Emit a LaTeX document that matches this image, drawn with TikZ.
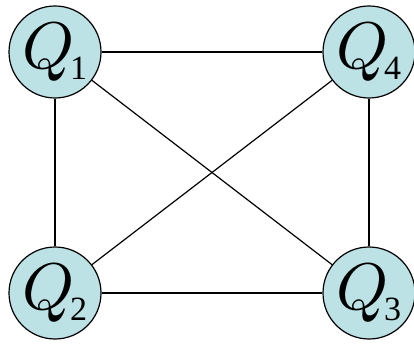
\documentclass[tikz,border=0pt]{standalone}
\usepackage{fontspec}
\setmainfont{Liberation Serif}
\definecolor{qfill}{RGB}{188,226,229}
\newcommand{\qname}[1]{\scalebox{6.6}{$Q$}\kern-5pt\raisebox{-11pt}{\fontsize{34}{34}\selectfont #1}}
\tikzset{
  qnode/.style={circle, draw=black, line width=1.2pt, fill=qfill, minimum size=92pt, inner sep=0pt},
  qedge/.style={line width=1.2pt}
}
\begin{document}
\begin{tikzpicture}[x=1pt,y=-1pt]
    \useasboundingbox (0,0) rectangle (414,344);
    % die vier Knoten
    \node[qnode] (q1) at (55,52)  {\qname{1}};
    \node[qnode] (q4) at (369,52) {\qname{4}};
    \node[qnode] (q2) at (55,293) {\qname{2}};
    \node[qnode] (q3) at (369,293) {\qname{3}};
    % Kanten
    \draw[qedge] (q1) -- (q4);
    \draw[qedge] (q2) -- (q3);
    \draw[qedge] (q1) -- (q2);
    \draw[qedge] (q4) -- (q3);
    \draw[qedge] (q1) -- (q3);
    \draw[qedge] (q2) -- (q4);
\end{tikzpicture}
\end{document}
